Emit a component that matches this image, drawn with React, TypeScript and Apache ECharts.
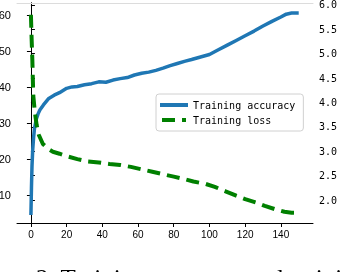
import React, { useEffect, useRef } from "react";
import * as echarts from "echarts";

const accX = [0, 0.3, 0.6, 1, 1.5, 2, 3, 4, 5, 7, 10, 13, 16, 20, 23, 26, 30, 34, 38, 42, 46, 50, 54, 58, 62, 66, 70, 74, 78, 82, 86, 90, 95, 100, 105, 110, 115, 120, 125, 130, 135, 140, 143, 146, 150];
const accY = [4.4, 12, 18, 22.5, 26, 28.5, 31, 32.5, 33.6, 35, 36.8, 37.7, 38.4, 39.6, 40.0, 40.1, 40.6, 40.9, 41.4, 41.3, 41.9, 42.3, 42.6, 43.3, 43.8, 44.1, 44.6, 45.2, 45.9, 46.5, 47.1, 47.6, 48.3, 49.0, 50.3, 51.6, 52.9, 54.2, 55.5, 56.9, 58.2, 59.4, 60.2, 60.5, 60.5];

const lossX = [0, 0.4, 0.8, 1.3, 2.2, 3.2, 4.5, 6.7, 10, 12.3, 16, 20, 26, 32, 38, 44, 50, 56, 62, 68, 74, 80, 86, 91, 98, 103, 109, 115, 120, 126, 131, 137, 142, 146, 150];
const lossY = [5.8, 5.3, 4.87, 4.15, 3.8, 3.54, 3.33, 3.15, 3.04, 2.99, 2.95, 2.9, 2.84, 2.79, 2.77, 2.74, 2.72, 2.68, 2.63, 2.58, 2.53, 2.48, 2.43, 2.38, 2.33, 2.27, 2.18, 2.09, 2.02, 1.95, 1.88, 1.81, 1.76, 1.74, 1.74];

const xTicks = [0, 20, 40, 60, 80, 100, 120, 140];
const leftTicks = [10, 20, 30, 40, 50, 60];
const rightTicks = [2.0, 2.5, 3.0, 3.5, 4.0, 4.5, 5.0, 5.5, 6.0];

const seriesNames = ["Training accuracy", "Training loss"];
const caption = "2. Training accuracy and training loss";

export default function App() {
  const ref = useRef<HTMLDivElement>(null);
  useEffect(() => {
    const chart = echarts.init(ref.current!, null, { renderer: "svg" });
    const labelFont = { fontFamily: "Liberation Sans", fontSize: 10, color: "#000" };
    chart.setOption({
      animation: false,
      grid: { left: 17, right: 29, top: 3, bottom: 49, containLabel: false, outerBoundsMode: "none" },
      legend: {
        orient: "vertical",
        left: 156,
        top: 94,
        padding: [6, 8, 6, 4],
        itemWidth: 28,
        itemHeight: 4,
        itemGap: 5,
        backgroundColor: "rgba(255,255,255,0.85)",
        borderColor: "#d0d0d0",
        borderWidth: 1,
        borderRadius: 3,
        textStyle: { fontFamily: "DejaVu Sans Mono", fontSize: 10, color: "#000" },
        data: [
          { name: seriesNames[0], icon: "path://M0 0H28V4H0Z", itemStyle: { color: "#1f77b4" } },
          { name: seriesNames[1], icon: "path://M0 0H13V4H0ZM20 0H24V4H20Z", itemStyle: { color: "#008000" } },
        ],
      },
      xAxis: [
        {
          type: "value",
          min: -7.8,
          max: 158,
          axisLine: { show: true, lineStyle: { color: "#000", width: 1 } },
          axisTick: { show: true, length: 4, inside: false, customValues: xTicks, lineStyle: { color: "#000" } },
          axisLabel: { ...labelFont, margin: 6, customValues: xTicks },
          splitLine: { show: false },
        },
        {
          type: "value",
          position: "top",
          min: -7.8,
          max: 158,
          axisLine: { show: true, lineStyle: { color: "#dcdcdc", width: 1 } },
          axisTick: { show: false },
          axisLabel: { show: false },
          splitLine: { show: false },
        },
      ],
      yAxis: [
        {
          type: "value",
          min: 2.2,
          max: 63.3,
          axisLine: { show: true, lineStyle: { color: "#000", width: 1 } },
          axisTick: { show: true, length: 4, customValues: leftTicks, lineStyle: { color: "#000" } },
          axisLabel: { ...labelFont, fontSize: 11, margin: 6, customValues: leftTicks },
          splitLine: { show: false },
        },
        {
          type: "value",
          position: "right",
          min: 1.53,
          max: 6.04,
          axisLine: { show: true, lineStyle: { color: "#000", width: 1 } },
          axisTick: { show: true, length: 4, customValues: rightTicks, lineStyle: { color: "#000" } },
          axisLabel: {
            fontFamily: "DejaVu Sans Mono",
            fontSize: 10,
            color: "#000",
            margin: 6,
            customValues: rightTicks,
            formatter: (v: number) => v.toFixed(1),
          },
          splitLine: { show: false },
        },
      ],
      series: [
        {
          name: seriesNames[0],
          type: "line",
          xAxisIndex: 0,
          yAxisIndex: 0,
          symbol: "none",
          data: accX.map((x, i) => [x, accY[i]]),
          lineStyle: { color: "#1f77b4", width: 3.5 },
          itemStyle: { color: "#1f77b4" },
        },
        {
          name: seriesNames[1],
          type: "line",
          xAxisIndex: 0,
          yAxisIndex: 1,
          symbol: "none",
          data: lossX.map((x, i) => [x, lossY[i]]),
          lineStyle: { color: "#008000", width: 4, type: [13, 7] },
          itemStyle: { color: "#008000" },
        },
      ],
      graphic: [
        {
          type: "text",
          left: 36,
          top: 266,
          style: { text: caption, fontFamily: "Liberation Serif", fontSize: 25, fill: "#000" },
        },
      ],
    });
    return () => chart.dispose();
  }, []);
  return <div ref={ref} style={{ position: "fixed", left: 0, top: 0, width: 342, height: 272 }} />;
}
